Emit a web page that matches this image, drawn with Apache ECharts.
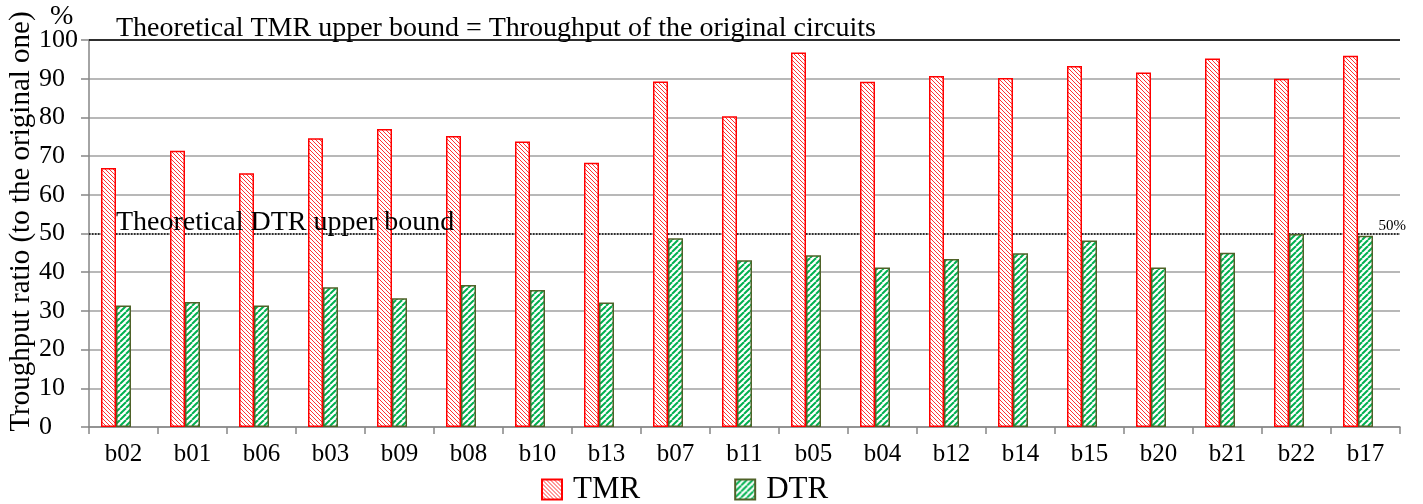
<!DOCTYPE html>
<html>
<head>
<meta charset="utf-8">
<script src="https://cdn.jsdelivr.net/npm/echarts@6/dist/echarts.min.js"></script>
<style>
  html, body { margin: 0; padding: 0; background: #fff; }
  #chart { width: 1423px; height: 504px; }
</style>
</head>
<body>
<div id="chart"></div>
<script>
// Benchmark circuits
const categories = ['b02', 'b01', 'b06', 'b03', 'b09', 'b08', 'b10', 'b13', 'b07', 'b11',
                    'b05', 'b04', 'b12', 'b14', 'b15', 'b20', 'b21', 'b22', 'b17'];
// Throughput ratio to the original circuit, in %
const tmrValues = [66.9, 71.4, 65.6, 74.6, 77.0, 75.2, 73.8, 68.3, 89.3, 80.3,
                   96.8, 89.2, 90.7, 90.2, 93.3, 91.6, 95.2, 90.0, 95.9];
const dtrValues = [31.4, 32.3, 31.4, 36.1, 33.3, 36.7, 35.4, 32.2, 48.8, 43.1,
                   44.4, 41.2, 43.4, 44.9, 48.2, 41.2, 45.0, 49.9, 49.4];
// Theoretical bounds, in %
const tmrBound = 100;
const dtrBound = 50;
const yTicks = { min: 0, max: 100, interval: 10 };

const SERIF = "'Liberation Serif', 'Times New Roman', serif";

// Hatch fill for TMR bars: fine red "\" lines
function tmrPattern() {
  const c = document.createElement('canvas');
  c.width = 4; c.height = 4;
  const g = c.getContext('2d');
  g.fillStyle = '#ffffff';
  g.fillRect(0, 0, 4, 4);
  g.fillStyle = 'rgba(255,0,0,0.8)';
  for (let i = 0; i < 4; i++) g.fillRect(i, i, 1, 1);
  return { image: c, repeat: 'repeat' };
}

// Hatch fill for DTR bars: wider green "/" stripes
function dtrPattern() {
  const s = 6;
  const c = document.createElement('canvas');
  c.width = s; c.height = s;
  const g = c.getContext('2d');
  g.fillStyle = '#ffffff';
  g.fillRect(0, 0, s, s);
  g.strokeStyle = '#00b050';
  g.lineWidth = 2;
  for (const o of [-s, 0, s]) {
    g.beginPath();
    g.moveTo(o, s);
    g.lineTo(o + s, 0);
    g.stroke();
  }
  return { image: c, repeat: 'repeat' };
}

const chart = echarts.init(document.getElementById('chart'));

chart.setOption({
  animation: false,
  backgroundColor: '#ffffff',
  grid: { left: 89, right: 23, top: 40, bottom: 77, containLabel: false, outerBoundsMode: 'none' },
  graphic: [{
    type: 'text',
    left: 50, top: 3,
    style: { text: '%', font: '28px ' + SERIF, fill: '#000' }
  }],
  legend: {
    data: ['TMR', 'DTR'],
    left: 536, top: 469,
    itemWidth: 20, itemHeight: 20,
    itemGap: 94,
    icon: 'rect',
    textStyle: { fontFamily: SERIF, fontSize: 31, color: '#000', padding: [0, 0, 0, 6] }
  },
  xAxis: {
    type: 'category',
    data: categories,
    axisLine: { lineStyle: { color: '#868686', width: 1.5 } },
    axisTick: { show: true, length: 7, lineStyle: { color: '#868686', width: 1.5 } },
    axisLabel: { fontFamily: SERIF, fontSize: 25, color: '#000', margin: 15 }
  },
  yAxis: {
    type: 'value',
    min: yTicks.min, max: yTicks.max, interval: yTicks.interval,
    name: 'Troughput ratio (to the original one)',
    nameLocation: 'middle',
    nameRotate: 90,
    nameGap: 53,
    nameMoveOverlap: false,
    nameTextStyle: { fontFamily: SERIF, fontSize: 29, color: '#000', padding: [0, 0, 0, 24] },
    axisLine: { show: true, lineStyle: { color: '#868686', width: 1.5 } },
    axisTick: { show: true, length: 8, lineStyle: { color: '#868686', width: 1.5 } },
    axisLabel: { fontFamily: SERIF, fontSize: 26, color: '#000', align: 'left', margin: 50 },
    splitLine: { lineStyle: { color: '#a0a0a0', width: 1.5 } }
  },
  series: [
    {
      name: 'TMR',
      type: 'bar',
      data: tmrValues,
      barWidth: 15,
      barGap: '0%',
      itemStyle: { color: tmrPattern(), borderColor: '#ff0000', borderWidth: 1.5 },
      markLine: {
        silent: true,
        symbol: 'none',
        data: [
          {
            yAxis: tmrBound,
            lineStyle: { color: '#000', type: 'solid', width: 1.5 },
            label: {
              show: true, position: 'insideStartTop', distance: [27, -3],
              formatter: 'Theoretical TMR upper bound = Throughput of the original circuits',
              fontFamily: SERIF, fontSize: 28, color: '#000'
            }
          },
          {
            yAxis: dtrBound,
            lineStyle: { color: 'transparent', width: 0 },
            label: {
              show: true, position: 'insideStartTop', distance: [27, -3],
              formatter: 'Theoretical DTR upper bound',
              fontFamily: SERIF, fontSize: 28, color: '#000'
            }
          }
        ]
      }
    },
    {
      name: 'DTR',
      type: 'bar',
      data: dtrValues,
      barWidth: 15,
      barGap: '0%',
      itemStyle: { color: dtrPattern(), borderColor: '#4f6228', borderWidth: 1.5 }
    },
    {
      // empty third slot in each group; carries the dotted DTR bound drawn beneath the bars
      name: 'bound',
      type: 'bar',
      data: categories.map(() => 0),
      barWidth: 15,
      barGap: '0%',
      itemStyle: { color: 'transparent', borderWidth: 0 },
      markLine: {
        silent: true,
        z: 1,
        symbol: 'none',
        data: [{
          yAxis: dtrBound,
          lineStyle: { color: '#000', type: [1.5, 1.5], width: 1.5 },
          label: {
            show: true, position: 'insideEndTop', distance: [-6, 0],
            formatter: dtrBound + '%',
            fontFamily: SERIF, fontSize: 15, color: '#000'
          }
        }]
      }
    }
  ]
});
</script>
</body>
</html>
